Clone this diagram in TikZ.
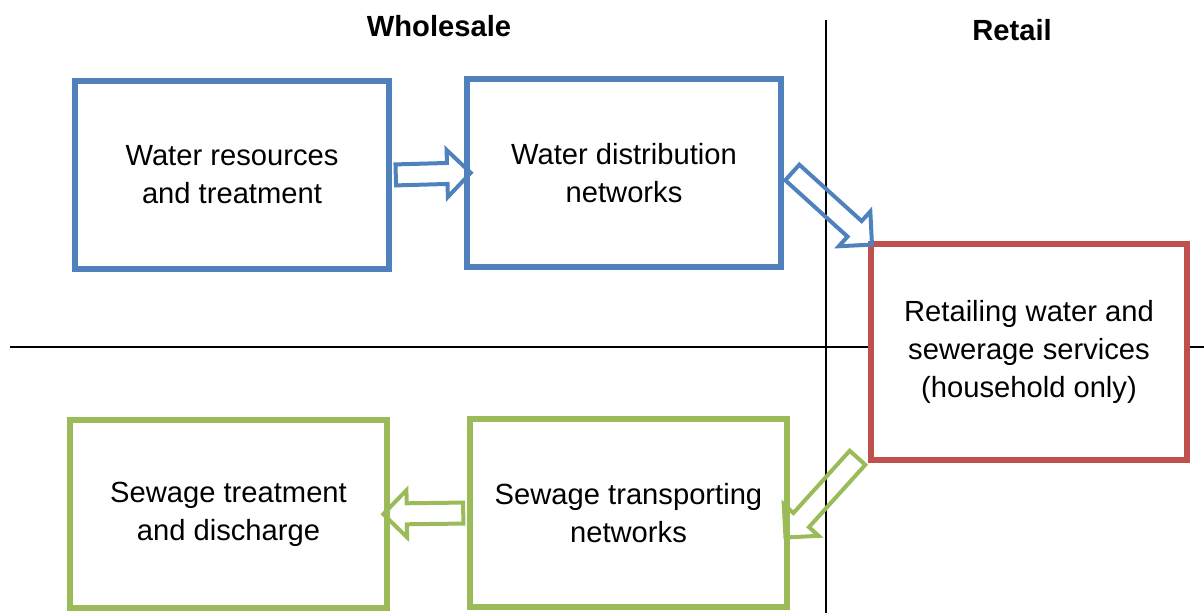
\documentclass[tikz,border=0pt]{standalone}
\usepackage{fontspec}
\setmainfont{Liberation Sans}
\usetikzlibrary{shapes.arrows,calc}

\definecolor{boxblue}{RGB}{79,129,189}
\definecolor{boxred}{RGB}{192,80,77}
\definecolor{boxgreen}{RGB}{155,187,89}

\begin{document}
\begin{tikzpicture}[x=0.02cm, y=-0.02cm,
		stage/.style={draw, line width=0.12cm, fill=white, align=center, inner sep=0pt,
			minimum width=6.3cm, minimum height=3.78cm,
			font=\fontsize{16.6}{21.6}\selectfont},
		flow/.style={single arrow, draw, line width=0.08cm, inner xsep=0pt, inner ysep=0.17cm,
			minimum width=0.88cm, single arrow head extend=0.26cm,
			sloped, allow upside down, anchor=center},
		heading/.style={font=\fontsize{16.6}{21.6}\selectfont\bfseries},
		divider/.style={draw, line width=0.035cm},
	]
		\useasboundingbox (0,0) rectangle (1204,613);

		% market split
		\draw[divider] (826,20) -- (826,613);
		\draw[divider] (10,347) -- (1204,347);

		\node (whl) [heading] at (439,26) {Wholesale};
		\node (rtl) [heading] at (1012,30) {Retail};

		\node (wr) [stage, draw=boxblue] at (232,175) {Water resources\\and treatment};
		\node (wd) [stage, draw=boxblue] at (624,173) {Water distribution\\networks};
		\node (rt) [stage, draw=boxred, minimum width=6.32cm, minimum height=4.32cm] at (1029,352) {Retailing water and\\sewerage services\\(household only)};
		\node (sg) [stage, draw=boxgreen, minimum width=6.34cm] at (228.5,514) {Sewage treatment\\and discharge};
		\node (tr) [stage, draw=boxgreen, minimum width=6.34cm] at (628.5,513) {Sewage transporting\\networks};

		% block arrows
		\path (wr.east) -- (wd.west) node (a1) [flow, draw=boxblue, midway, minimum height=1.5cm] {};
		\path ($(wd.east)+(4,-4)$) -- (rt.north west) node (a2) [flow, draw=boxblue, midway, minimum height=2.15cm] {};
		\path ($(rt.south west)+(-8,-8)$) -- ($(tr.north east)!0.6!(tr.south east)$) node (a3) [flow, draw=boxgreen, midway, minimum height=2.15cm] {};
		\path (tr.west) -- (sg.east) node (a4) [flow, draw=boxgreen, midway, minimum height=1.6cm] {};
	\end{tikzpicture}
\end{document}
